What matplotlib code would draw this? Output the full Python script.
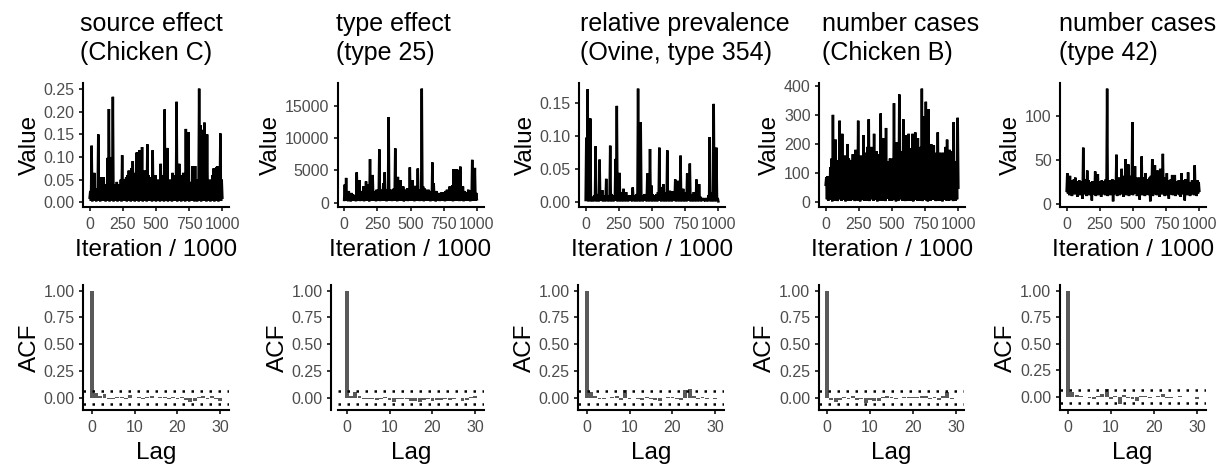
import matplotlib
matplotlib.use("Agg")
import matplotlib.pyplot as plt
import numpy as np

W, H = 1220, 467
DPI = 100
FONT = ["Liberation Sans", "DejaVu Sans"]

TITLES = [
    ("source effect", "(Chicken C)"),
    ("type effect", "(type 25)"),
    ("relative prevalence", "(Ovine, type 354)"),
    ("number cases", "(Chicken B)"),
    ("number cases", "(type 42)"),
]

# MCMC traces read every 5 iterations: troughs at 0, 10, 20, ... and peaks at 5, 15, 25, ...
SOURCE_LOW = [
    0.010, 0.003, 0.002, 0.004, 0.003, 0.002, 0.005, 0.003, 0.002, 0.004,
    0.003, 0.006, 0.002, 0.003, 0.004, 0.002, 0.005, 0.003, 0.002, 0.004,
    0.003, 0.002, 0.006, 0.003, 0.002, 0.004, 0.003, 0.005, 0.002, 0.003,
    0.004, 0.002, 0.003, 0.005, 0.002, 0.004, 0.003, 0.002, 0.006, 0.003,
    0.002, 0.004, 0.003, 0.002, 0.005, 0.003, 0.004, 0.002, 0.003, 0.006,
    0.002, 0.003, 0.004, 0.002, 0.005, 0.003, 0.002, 0.004, 0.003, 0.002,
    0.005, 0.003, 0.002, 0.004, 0.003, 0.006, 0.002, 0.003, 0.004, 0.002,
    0.003, 0.005, 0.002, 0.004, 0.003, 0.002, 0.005, 0.003, 0.004, 0.002,
    0.003, 0.002, 0.006, 0.003, 0.002, 0.004, 0.003, 0.005, 0.002, 0.003,
    0.004, 0.002, 0.003, 0.005, 0.002, 0.004, 0.003, 0.002, 0.005, 0.003,
    0.010,
]
SOURCE_HIGH = [
    0.025, 0.125, 0.030, 0.065, 0.020, 0.030, 0.150, 0.025, 0.055, 0.035,
    0.055, 0.040, 0.030, 0.098, 0.206, 0.045, 0.100, 0.233, 0.040, 0.030,
    0.045, 0.035, 0.040, 0.050, 0.104, 0.045, 0.050, 0.055, 0.060, 0.070,
    0.050, 0.075, 0.091, 0.060, 0.065, 0.110, 0.055, 0.115, 0.060, 0.122,
    0.065, 0.070, 0.055, 0.128, 0.060, 0.050, 0.055, 0.115, 0.050, 0.060,
    0.045, 0.050, 0.040, 0.085, 0.045, 0.060, 0.205, 0.050, 0.120, 0.045,
    0.050, 0.040, 0.065, 0.050, 0.060, 0.222, 0.045, 0.085, 0.040, 0.060,
    0.065, 0.045, 0.162, 0.050, 0.155, 0.045, 0.040, 0.080, 0.045, 0.080,
    0.040, 0.050, 0.251, 0.170, 0.060, 0.160, 0.176, 0.055, 0.150, 0.050,
    0.045, 0.050, 0.060, 0.075, 0.050, 0.078, 0.080, 0.055, 0.152, 0.050,
]
TYPE25_LOW = [
    400, 250, 300, 200, 350, 180, 300, 250, 400, 200,
    300, 350, 220, 280, 400, 200, 300, 250, 350, 180,
    300, 400, 250, 300, 200, 350, 280, 220, 400, 300,
    250, 350, 200, 300, 280, 400, 220, 300, 350, 250,
    200, 300, 400, 250, 350, 180, 300, 280, 220, 400,
    300, 250, 350, 200, 300, 400, 250, 220, 300, 350,
    200, 280, 400, 250, 300, 200, 350, 300, 250, 180,
    300, 400, 220, 300, 250, 350, 200, 300, 280, 400,
    250, 300, 200, 350, 300, 250, 400, 220, 300, 350,
    200, 300, 250, 400, 280, 200, 350, 300, 250, 300,
    500,
]
TYPE25_HIGH = [
    2800, 3840, 1500, 1800, 1200, 1500, 1300, 1100, 1200, 4710,
    2000, 3500, 1500, 1800, 2500, 1500, 3300, 2800, 1600, 6760,
    2000, 4300, 1500, 1800, 2000, 1600, 8290, 1800, 2000, 3000,
    4700, 1800, 2000, 13310, 1500, 2000, 1800, 2200, 8450, 2000,
    4000, 1800, 3500, 2200, 2500, 1800, 2000, 2200, 1600, 5480,
    2000, 3500, 1800, 2600, 1700, 5300, 2000, 1800, 17760, 2500,
    2200, 2000, 1800, 2000, 1600, 1800, 6250, 3000, 1500, 1800,
    1200, 1500, 1400, 1600, 1600, 1500, 1800, 2000, 1800, 2500,
    2400, 2700, 5200, 2500, 5200, 5100, 2500, 5600, 2000, 2500,
    1800, 1500, 1600, 2000, 1800, 1900, 6660, 2000, 5400, 1500,
]
OVINE_LOW = [
    0.003, 0.002, 0.001, 0.002, 0.001, 0.003, 0.001, 0.002, 0.001, 0.002,
    0.001, 0.003, 0.002, 0.001, 0.002, 0.001, 0.003, 0.001, 0.002, 0.001,
    0.002, 0.001, 0.003, 0.002, 0.001, 0.002, 0.001, 0.003, 0.001, 0.002,
    0.001, 0.002, 0.001, 0.003, 0.002, 0.001, 0.002, 0.001, 0.003, 0.001,
    0.002, 0.001, 0.002, 0.001, 0.003, 0.002, 0.001, 0.002, 0.001, 0.003,
    0.001, 0.002, 0.001, 0.002, 0.001, 0.003, 0.002, 0.001, 0.002, 0.001,
    0.003, 0.001, 0.002, 0.001, 0.002, 0.001, 0.003, 0.002, 0.001, 0.002,
    0.001, 0.003, 0.001, 0.002, 0.001, 0.002, 0.001, 0.003, 0.002, 0.001,
    0.002, 0.001, 0.003, 0.001, 0.002, 0.001, 0.002, 0.001, 0.003, 0.002,
    0.001, 0.002, 0.001, 0.003, 0.001, 0.002, 0.001, 0.002, 0.001, 0.003,
    0.001,
]
OVINE_HIGH = [
    0.097, 0.170, 0.010, 0.126, 0.008, 0.006, 0.010, 0.084, 0.008, 0.012,
    0.064, 0.015, 0.018, 0.010, 0.008, 0.035, 0.010, 0.006, 0.085, 0.012,
    0.008, 0.010, 0.065, 0.145, 0.012, 0.044, 0.015, 0.010, 0.020, 0.012,
    0.015, 0.010, 0.008, 0.010, 0.006, 0.022, 0.010, 0.008, 0.012, 0.171,
    0.015, 0.120, 0.010, 0.008, 0.012, 0.010, 0.043, 0.015, 0.080, 0.025,
    0.012, 0.010, 0.008, 0.012, 0.015, 0.082, 0.012, 0.022, 0.027, 0.015,
    0.012, 0.078, 0.015, 0.017, 0.012, 0.016, 0.010, 0.034, 0.012, 0.032,
    0.010, 0.070, 0.012, 0.020, 0.015, 0.012, 0.043, 0.030, 0.058, 0.012,
    0.010, 0.015, 0.008, 0.034, 0.010, 0.027, 0.008, 0.005, 0.006, 0.004,
    0.006, 0.005, 0.010, 0.098, 0.008, 0.015, 0.148, 0.020, 0.082, 0.006,
]
CHICKEN_B_LOW = [
    60, 10, 5, 15, 8, 3, 20, 6, 12, 4,
    10, 25, 5, 8, 15, 3, 10, 6, 30, 5,
    12, 8, 4, 15, 6, 10, 3, 20, 8, 5,
    12, 6, 15, 4, 10, 25, 5, 8, 12, 3,
    10, 6, 18, 5, 8, 4, 12, 35, 6, 10,
    5, 15, 8, 3, 12, 6, 10, 20, 5, 8,
    4, 12, 6, 15, 5, 10, 3, 8, 25, 6,
    12, 5, 10, 4, 8, 15, 6, 3, 12, 5,
    10, 8, 20, 4, 6, 12, 5, 10, 3, 8,
    15, 6, 10, 5, 30, 8, 4, 12, 6, 10,
    50,
]
CHICKEN_B_HIGH = [
    85, 90, 75, 120, 150, 300, 140, 215, 130, 145,
    280, 150, 235, 140, 160, 135, 200, 150, 120, 145,
    165, 140, 180, 150, 280, 145, 160, 140, 230, 170,
    155, 190, 285, 160, 190, 150, 235, 170, 175, 150,
    165, 305, 160, 220, 150, 255, 140, 130, 150, 145,
    150, 340, 160, 205, 170, 370, 160, 175, 285, 180,
    230, 170, 235, 185, 175, 235, 190, 240, 180, 220,
    175, 190, 390, 295, 170, 345, 180, 320, 160, 200,
    150, 195, 160, 170, 240, 165, 170, 150, 170, 160,
    190, 215, 140, 180, 150, 175, 275, 140, 135, 290,
]
TYPE42_LOW = [
    15, 12, 10, 14, 9, 12, 11, 13, 8, 12,
    10, 14, 6, 12, 11, 9, 13, 10, 12, 4,
    11, 13, 9, 12, 10, 14, 8, 11, 12, 10,
    13, 9, 12, 10, 14, 3, 11, 12, 9, 13,
    10, 12, 11, 8, 13, 10, 12, 9, 14, 11,
    10, 12, 13, 9, 11, 5, 12, 10, 13, 9,
    11, 12, 10, 3, 13, 9, 12, 11, 10, 14,
    8, 12, 11, 13, 9, 10, 12, 6, 11, 13,
    10, 12, 9, 11, 13, 10, 8, 12, 11, 4,
    12, 10, 13, 9, 11, 12, 10, 13, 9, 12,
    15,
]
TYPE42_HIGH = [
    35, 28, 32, 27, 26, 28, 30, 26, 25, 27,
    24, 26, 64, 25, 28, 38, 27, 25, 24, 26,
    25, 37, 28, 34, 26, 25, 27, 24, 26, 28,
    131, 26, 27, 25, 28, 27, 26, 56, 27, 30,
    28, 40, 30, 32, 51, 30, 45, 32, 30, 93,
    35, 43, 30, 28, 30, 27, 54, 30, 28, 35,
    27, 28, 30, 32, 51, 30, 44, 28, 38, 30,
    40, 32, 57, 28, 30, 35, 27, 26, 28, 33,
    27, 33, 26, 25, 27, 26, 35, 25, 27, 28,
    26, 36, 25, 24, 27, 26, 44, 25, 27, 25,
]
TRACE_LOWS = [SOURCE_LOW, TYPE25_LOW, OVINE_LOW, CHICKEN_B_LOW, TYPE42_LOW]
TRACE_HIGHS = [SOURCE_HIGH, TYPE25_HIGH, OVINE_HIGH, CHICKEN_B_HIGH, TYPE42_HIGH]
ITER_STEP = 5

# autocorrelation, lags 0..30
ACF_SOURCE_CHICKEN_C = [
    1.0, 0.040, 0.015, 0.030, -0.010, -0.015, 0.005, 0.010, -0.010, 0.025,
    -0.005, 0.005, -0.010, 0.010, 0.015, -0.005, 0.010, 0.010, -0.010, 0.010,
    -0.015, 0.005, -0.020, -0.045, -0.030, 0.010, 0.020, -0.010, 0.015, -0.010,
    -0.030,
]
ACF_TYPE_25 = [
    1.0, 0.020, 0.056, 0.015, -0.015, -0.010, -0.015, -0.020, -0.010, 0.010,
    -0.020, -0.040, -0.015, -0.015, -0.010, -0.030, -0.030, -0.045, -0.020, -0.015,
    -0.030, -0.020, -0.025, -0.010, -0.020, -0.015, -0.005, -0.030, -0.020, 0.010,
    0.020,
]
ACF_PREV_OVINE_354 = [
    1.0, 0.050, 0.020, -0.010, -0.010, -0.005, 0.005, 0.015, -0.020, 0.075,
    -0.010, -0.005, -0.015, -0.025, 0.005, -0.010, -0.020, -0.030, -0.005, 0.010,
    0.010, -0.010, -0.020, 0.075, 0.085, 0.020, -0.010, 0.010, -0.015, -0.005,
    -0.010,
]
ACF_CASES_CHICKEN_B = [
    1.0, -0.020, -0.040, -0.020, 0.010, -0.010, 0.020, -0.020, -0.010, -0.050,
    -0.020, -0.030, -0.030, 0.010, 0.020, 0.005, -0.010, -0.005, 0.005, 0.005,
    0.010, 0.005, 0.015, 0.020, -0.010, 0.010, -0.020, 0.020, 0.050, -0.010,
    -0.005,
]
ACF_CASES_TYPE_42 = [
    1.0, 0.050, 0.020, 0.010, -0.005, -0.010, -0.020, 0.010, 0.030, 0.070,
    -0.020, 0.010, -0.070, 0.015, -0.010, -0.020, -0.040, 0.010, 0.005, -0.010,
    -0.005, 0.005, 0.030, -0.010, -0.015, -0.005, 0.005, -0.005, 0.000, -0.005,
    -0.020,
]
ACFS = [ACF_SOURCE_CHICKEN_C, ACF_TYPE_25, ACF_PREV_OVINE_354,
        ACF_CASES_CHICKEN_B, ACF_CASES_TYPE_42]
ACF_CI = 0.062

TRACE_YTICKS = [
    [0.0, 0.05, 0.10, 0.15, 0.20, 0.25],
    [0, 5000, 10000, 15000],
    [0.0, 0.05, 0.10, 0.15],
    [0, 100, 200, 300, 400],
    [0, 50, 100],
]
TRACE_YFMT = ["{:.2f}", "{:.0f}", "{:.2f}", "{:.0f}", "{:.0f}"]

# layout in pixels
TOP_ROW = (83, 207)
BOTTOM_ROW = (285, 410)
TOP_LEFTS = [83, 337.5, 579, 819, 1060]
BOTTOM_LEFTS = [83, 338, 578, 818.5, 1059.5]
PANEL_W = 146
TITLE_X = [80, 336, 580, 822, 1059]

plt.rcParams["font.family"] = FONT
TICK_COLOR = "#333333"
LABEL_COLOR = "#4D4D4D"


def rect(left, top, bottom):
    return [left / W, 1 - bottom / H, PANEL_W / W, (bottom - top) / H]


def style(ax):
    for s in ("top", "right"):
        ax.spines[s].set_visible(False)
    for s in ("left", "bottom"):
        ax.spines[s].set_linewidth(1.5)
        ax.spines[s].set_color("black")
    ax.tick_params(length=3, width=1.4, color=TICK_COLOR, labelcolor=LABEL_COLOR,
                   labelsize=11.5)
    ax.tick_params(axis="x", pad=4)
    ax.tick_params(axis="y", pad=3)
    ax.set_facecolor("none")


def expand(lo, hi, frac=0.05):
    r = hi - lo
    return lo - frac * r, hi + frac * r


fig = plt.figure(figsize=(W / DPI, H / DPI), dpi=DPI)

for k in range(5):
    ax = fig.add_axes(rect(TOP_LEFTS[k], *TOP_ROW))
    lows = np.array(TRACE_LOWS[k], dtype=float)
    highs = np.array(TRACE_HIGHS[k], dtype=float)
    vals = np.empty(len(lows) + len(highs))
    vals[0::2] = lows
    vals[1::2] = highs
    iters = np.arange(len(vals)) * ITER_STEP
    ax.plot(iters, vals, color="black", lw=1.8, solid_joinstyle="miter")
    ax.set_xlim(-50, 1050)
    ax.set_ylim(*expand(vals.min(), vals.max()))
    ax.set_xticks([0, 250, 500, 750, 1000])
    ax.set_yticks(TRACE_YTICKS[k])
    ax.set_yticklabels([TRACE_YFMT[k].format(t) for t in TRACE_YTICKS[k]])
    style(ax)
    ax.set_xlabel("Iteration / 1000", fontsize=17.5, labelpad=5)
    ax.set_ylabel("Value", fontsize=17.5, labelpad=2)

    ax2 = fig.add_axes(rect(BOTTOM_LEFTS[k], *BOTTOM_ROW))
    acf = np.array(ACFS[k])
    lags = np.arange(len(acf))
    ax2.bar(lags, acf, width=0.9, color="#595959")
    ax2.axhline(ACF_CI, color="black", lw=1.8, ls=(0, (1, 2.6)))
    ax2.axhline(-ACF_CI, color="black", lw=1.8, ls=(0, (1, 2.6)))
    ax2.set_xlim(-1.995, 31.995)
    ax2.set_ylim(*expand(min(acf.min(), -ACF_CI), max(acf.max(), ACF_CI)))
    ax2.set_xticks([0, 10, 20, 30])
    ax2.set_yticks([0, 0.25, 0.5, 0.75, 1.0])
    ax2.set_yticklabels(["0.00", "0.25", "0.50", "0.75", "1.00"])
    style(ax2)
    if k == 1:
        ax2.spines["left"].set_position(("outward", 5))
    ax2.set_xlabel("Lag", fontsize=17.5, labelpad=5)
    ax2.set_ylabel("ACF", fontsize=17.5, labelpad=2)

    line1, line2 = TITLES[k]
    fig.text(TITLE_X[k] / W, 1 - 31 / H, line1, fontsize=18, va="baseline", ha="left")
    fig.text(TITLE_X[k] / W, 1 - 60 / H, line2, fontsize=18, va="baseline", ha="left")

fig.savefig("out.png", dpi=DPI, facecolor="white")
